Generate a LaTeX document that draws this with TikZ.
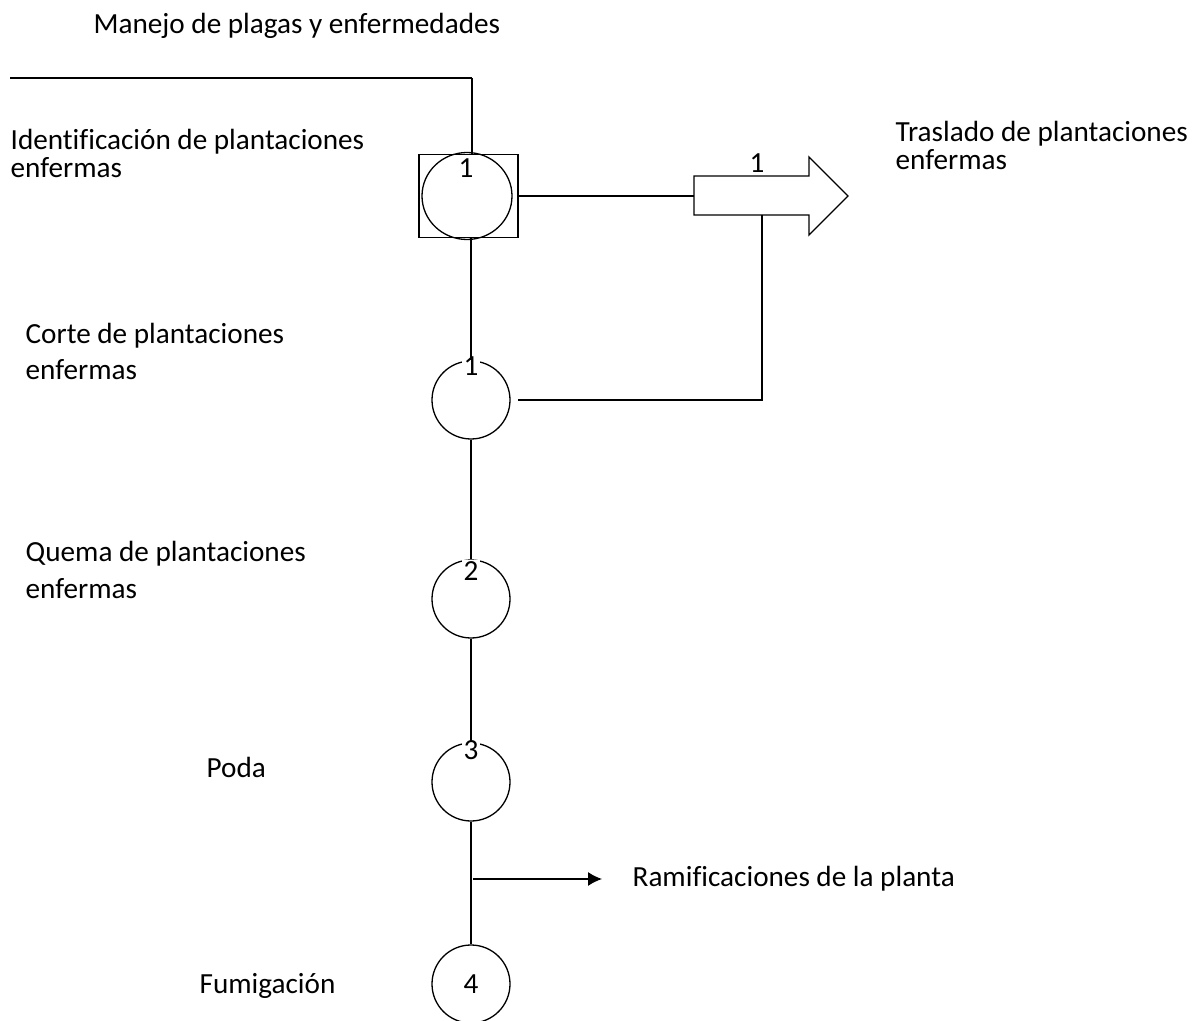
\documentclass[tikz,border=0pt]{standalone}
\usepackage{fontspec}
\setmainfont{Carlito}[Ligatures=NoCommon]
\usetikzlibrary{arrows.meta, positioning, calc, shapes.geometric}

\begin{document}
\begin{tikzpicture}[
    x=0.5pt, y=-0.5pt,
    line width=0.65pt,
    >={Latex[length=7pt, width=7pt]},
    every node/.style={font=\fontsize{14.6}{14}\selectfont},
    op circle/.style={circle, draw, minimum size=39pt, inner sep=0pt},
    op label/.style={anchor=base west, align=left, inner sep=0pt},
    wide label/.style={op label, font=\fontsize{14.6}{18.25}\selectfont},
    num/.style={fill=white, inner sep=0.6pt}
]

    % === Bounding box ===
    \useasboundingbox (0,0) rectangle (1200,1021);

    % === Labels (base = last line) ===
    \node[op label] (manejo_label) at (93,34) {Manejo de plagas y enfermedades};
    \node[op label] (ident_label) at (10,178) {Identificación de plantaciones\\enfermas};
    \node[op label] (traslado_label) at (895,170) {Traslado de plantaciones\\enfermas};
    \node[wide label] (corte_label) at (25,380) {Corte de plantaciones\\enfermas};
    \node[wide label] (quema_label) at (25,598) {Quema de plantaciones\\enfermas};
    \node[op label] (poda_label) at (206,777) {Poda};
    \node[op label] (ramif_label) at (632,886) {Ramificaciones de la planta};
    \node[op label] (fumig_label) at (199,993) {Fumigación};

    % === Operations ===
    \node[draw, minimum width=49.5pt, minimum height=41.5pt, inner sep=0pt] (ident_box) at (468.5,196) {};
    \node[ellipse, draw, minimum width=45pt, minimum height=43.5pt, inner sep=0pt] (ident_c) at (467,196) {};
    \node[op circle] (corte_c) at (471,400) {};
    \node[op circle] (quema_c) at (471,599) {};
    \node[op circle] (poda_c) at (471,782) {};
    \node[op circle] (fumig_c) at (471,984) {4};

    % numbers at the top of the symbols
    \node[num] (ident_num) at (466,168) {1};
    \node[num] (corte_num) at (471,366) {1};
    \node[num] (quema_num) at (471,571) {2};
    \node[num] (poda_num) at (471,750) {3};

    % === Transport arrow ===
    \coordinate (tras_in) at (694,196);
    \coordinate (tras_out) at (762,215);
    \draw (694,176) -- (809,176) -- (809,157) -- (848,196) -- (809,235) -- (809,215) -- (694,215) -- cycle;
    \node (tras_num) at (757,163) {1};

    % === Connectors ===
    \coordinate (top_start) at (10,78);
    \coordinate (top_corner) at (472,78);
    \draw[line width=0.9pt] (top_start) -- (top_corner);
    \draw (top_corner) -- (top_corner |- ident_box.north);

    \draw (ident_box.east) -- (tras_in);
    \draw (corte_c.north |- ident_box.south) -- (corte_c.north);
    \draw (tras_out) |- ([xshift=3.5pt]corte_c.east);
    \draw (corte_c.south) -- (quema_c.north);
    \draw (quema_c.south) -- (poda_c.north);
    \draw (poda_c.south) -- (fumig_c.north);

    % branch of the pruning
    \coordinate (ramif_from) at (473,879);
    \draw[->] (ramif_from) -- ([xshift=-15pt]ramif_from -| ramif_label.west);

\end{tikzpicture}
\end{document}
